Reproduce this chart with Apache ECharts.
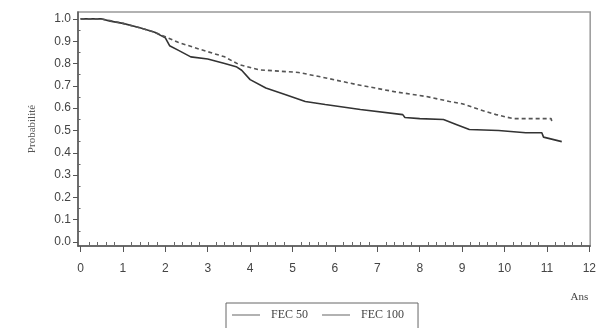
<!DOCTYPE html>
<html><head><meta charset="utf-8">
<script src="https://cdn.jsdelivr.net/npm/echarts@6/dist/echarts.min.js"></script>
<style>html,body{margin:0;padding:0;background:#fff}#c{width:599px;height:328px}</style>
</head><body><div id="c"></div>
<script>
const seriesNames = ['FEC 50', 'FEC 100'];
const fec50Years = [0, 0.5, 0.7, 1.0, 1.4, 1.75, 2.0, 2.1, 2.3, 2.6, 3.0, 3.4, 3.67, 3.8, 4.0, 4.37, 4.84, 5.3, 5.77, 6.6, 7.6, 7.65, 8.0, 8.56, 8.86, 9.17, 9.86, 10.5, 10.88, 10.92, 11.35];
const fec50Prob  = [1.0, 1.0, 0.99, 0.98, 0.96, 0.94, 0.915, 0.88, 0.86, 0.83, 0.82, 0.80, 0.786, 0.77, 0.728, 0.69, 0.66, 0.63, 0.616, 0.594, 0.571, 0.558, 0.553, 0.549, 0.527, 0.504, 0.50, 0.49, 0.49, 0.47, 0.45];
const fec100Years = [0, 0.5, 1.0, 1.4, 1.75, 2.0, 2.3, 2.63, 3.0, 3.4, 3.74, 4.2, 5.14, 5.67, 6.53, 7.4, 8.16, 8.7, 9.0, 9.4, 9.8, 10.2, 11.1, 11.12, 11.15];
const fec100Prob  = [1.0, 1.0, 0.98, 0.96, 0.94, 0.92, 0.895, 0.875, 0.853, 0.83, 0.795, 0.772, 0.76, 0.74, 0.705, 0.674, 0.652, 0.63, 0.62, 0.594, 0.571, 0.553, 0.553, 0.536, 0.536];
const xTicks = [0,1,2,3,4,5,6,7,8,9,10,11,12];
const yTicks = [0,0.1,0.2,0.3,0.4,0.5,0.6,0.7,0.8,0.9,1.0];
const xMinor = []; for (let i = 0; i <= 60; i++) if (i % 5) xMinor.push(i / 5);
const yMinor = []; for (let i = 0; i < 10; i++) yMinor.push(i / 10 + 0.05);

const chart = echarts.init(document.getElementById('c'));
const zip = (a, b) => a.map((v, i) => [v, b[i]]);
const labelFont = {fontFamily: 'Liberation Sans', fontSize: 12, color: '#444'};
chart.setOption({
  animation: false,
  grid: {left: 78, right: 3, top: 12, bottom: 82, show: true, borderColor: '#999', borderWidth: 1.5},
  xAxis: [{
    type: 'value', min: -0.06, max: 12.02,
    name: 'Ans', nameLocation: 'end', nameGap: 0,
    nameTextStyle: {fontFamily: 'Liberation Serif', fontSize: 11, color: '#444', align: 'right', verticalAlign: 'top', padding: [46, 2, 0, 0]},
    axisLine: {show: true, onZero: false, lineStyle: {color: '#555', width: 1.5}},
    axisTick: {show: true, customValues: xTicks, length: 6, lineStyle: {color: '#555'}},
    axisLabel: {customValues: xTicks, margin: 17, formatter: v => String(Math.round(v)), ...labelFont},
    splitLine: {show: false}
  }, {
    type: 'value', min: -0.06, max: 12.02, position: 'bottom',
    axisLine: {show: false},
    axisTick: {show: true, customValues: xMinor, length: 3, lineStyle: {color: '#666'}},
    axisLabel: {show: false}, splitLine: {show: false}
  }],
  yAxis: [{
    type: 'value', min: -0.018, max: 1.031,
    name: 'Probabilité', nameLocation: 'middle', nameGap: 40,
    nameTextStyle: {fontFamily: 'Liberation Serif', fontSize: 11, color: '#555'},
    axisLine: {show: true, onZero: false, lineStyle: {color: '#555', width: 1.5}},
    axisTick: {show: true, customValues: yTicks, length: 5, lineStyle: {color: '#555'}},
    axisLabel: {customValues: yTicks, margin: 7, formatter: v => v.toFixed(1), ...labelFont},
    splitLine: {show: false}
  }, {
    type: 'value', min: -0.018, max: 1.031, position: 'left',
    axisLine: {show: false},
    axisTick: {show: true, customValues: yMinor, length: 3, lineStyle: {color: '#666'}},
    axisLabel: {show: false}, splitLine: {show: false}
  }],
  legend: {
    top: 303, left: 226,
    data: seriesNames,
    icon: 'rect',
    itemWidth: 28, itemGap: 14, itemHeight: 1.5,
    padding: [6, 14, 14, 6],
    borderColor: '#666', borderWidth: 1,
    itemStyle: {color: '#999'},
    textStyle: {fontFamily: 'Liberation Serif', fontSize: 12, color: '#444', padding: [0, 0, 0, 6]}
  },
  series: [{
    name: seriesNames[0], type: 'line', symbol: 'none', xAxisIndex: 0, yAxisIndex: 0,
    data: zip(fec50Years, fec50Prob),
    lineStyle: {color: '#333', width: 1.6}, itemStyle: {color: '#333'}
  }, {
    name: seriesNames[1], type: 'line', symbol: 'none', xAxisIndex: 0, yAxisIndex: 0,
    data: zip(fec100Years, fec100Prob),
    lineStyle: {color: '#555', width: 1.6, type: [4, 3]}, itemStyle: {color: '#555'}
  }]
});
</script></body></html>
